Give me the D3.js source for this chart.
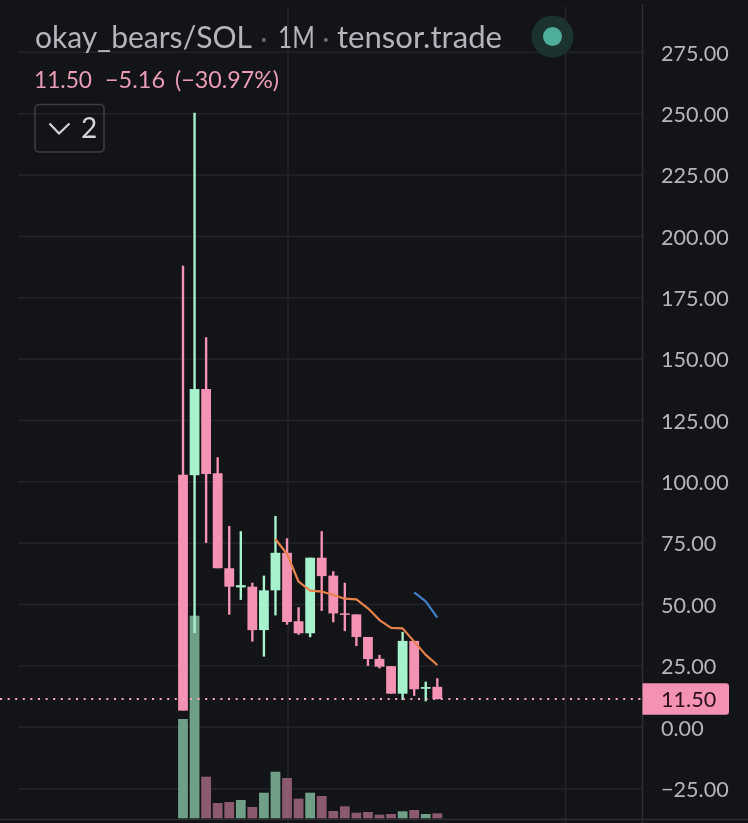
<!DOCTYPE html>
<html><head><meta charset="utf-8">
<script src="https://cdn.jsdelivr.net/npm/d3@7"></script>
<style>html,body{margin:0;padding:0;background:#131417}svg{display:block;filter:blur(0.4px)}text{font-family:Lato,sans-serif}</style>
</head><body><svg id="c" width="748" height="823"></svg>
<script>
const periods = d3.range(1,24).map(d=>"M"+d);
const opens  = [102.9,102.7,137.8,103.5,64.8,57.0,57.3,39.6,55.8,71.1,43.2,38.3,69.1,61.8,46.4,46.0,36.8,27.9,24.9,13.7,35.2,15.7,16.5];
const closes = [6.8,137.8,103.2,64.8,57.3,57.9,39.6,55.8,71.1,42.9,38.3,69.1,61.6,46.4,46.0,36.8,27.8,24.7,13.7,35.2,15.5,16.4,11.5];
const highs  = [188,250.4,158.9,110,82,79.9,58.9,61.8,86.1,77,48.9,69.1,79.9,63.6,58.9,46,36.8,29.5,24.9,38.9,35.2,18.6,20];
const lows   = [6.8,38.4,75.1,64.8,45.9,51.9,34.9,28.8,45.6,41.8,37.7,36.7,47.4,42.8,39.2,33.1,25,24,13.7,11.1,12.8,10.6,11.4];
const volumes= [99.3,202.6,41.6,15.3,16.3,18.3,11.3,25.6,46.6,40.3,19.6,25.6,22.3,7.3,12,5.6,6.3,3.6,4.3,7,8.3,4.3,5];
const volumeUp=[1,1,0,0,0,1,0,1,1,0,0,1,0,0,0,0,0,0,0,1,0,1,0];
const maOrange = [null,null,null,null,null,null,null,null,76.6,70.6,59.3,55.7,55.3,53.9,52.4,52.1,48.5,43.7,40.5,40.3,34.9,29.5,25.4];
const maBlue = [null,null,null,null,null,null,null,null,null,null,null,null,null,null,null,null,null,null,null,null,55,51.3,44.7];
const priceTicks = [275,250,225,200,175,150,125,100,75,50,25,0,-25];
const lastPrice = 11.5;

const UP="#a6f2cd",DOWN="#f492b3",UPV="#6f9f87",DOWNV="#8c5a70",GRID="#232428",BG="#131417";
const svg=d3.select("#c");
svg.append("rect").attr("width",748).attr("height",823).attr("fill",BG);
const y=d3.scaleLinear().domain([0,275]).range([727.3,52.3]);
const x=d3.scalePoint().domain(periods).range([183,437.3]);
const v=d3.scaleLinear().domain([0,202.6]).range([818.3,615.7]);
const BW=9.8,WW=2.4;

// grid
svg.append("g").selectAll("line").data(priceTicks).join("line")
  .attr("x1",18).attr("x2",642).attr("y1",d=>y(d)).attr("y2",d=>y(d)).attr("stroke",GRID).attr("stroke-width",1.5);
svg.append("g").selectAll("line").data([288,565.5]).join("line")
  .attr("x1",d=>d).attr("x2",d=>d).attr("y1",6).attr("y2",823).attr("stroke",GRID).attr("stroke-width",1.5);
svg.append("line").attr("x1",642.5).attr("x2",642.5).attr("y1",4).attr("y2",823).attr("stroke","#2e2f33").attr("stroke-width",1.5);
svg.append("line").attr("x1",0).attr("x2",748).attr("y1",819.5).attr("y2",819.5).attr("stroke","#2e2f33").attr("stroke-width",1.5);

// volume
svg.append("g").selectAll("rect").data(volumes).join("rect")
  .attr("x",(d,i)=>x(periods[i])-BW/2).attr("width",BW)
  .attr("y",d=>v(d)).attr("height",d=>v(0)-v(d))
  .attr("fill",(d,i)=>volumeUp[i]?UPV:DOWNV);

// candles
const col=i=>closes[i]>=opens[i]?UP:DOWN;
svg.append("g").selectAll("line").data(periods).join("line")
  .attr("x1",d=>x(d)).attr("x2",d=>x(d))
  .attr("y1",(d,i)=>y(highs[i])).attr("y2",(d,i)=>y(lows[i]))
  .attr("stroke",(d,i)=>col(i)).attr("stroke-width",WW);
svg.append("g").selectAll("rect").data(periods).join("rect")
  .attr("x",d=>x(d)-BW/2).attr("width",BW)
  .attr("y",(d,i)=>y(Math.max(opens[i],closes[i])))
  .attr("height",(d,i)=>Math.max(1.5,Math.abs(y(opens[i])-y(closes[i]))))
  .attr("fill",(d,i)=>col(i));

// moving averages
const line=d3.line().defined(d=>d!==null).x((d,i)=>x(periods[i])).y(d=>y(d));
svg.append("path").attr("d",line(maOrange)).attr("fill","none").attr("stroke","#e8834c").attr("stroke-width",2.2).attr("stroke-linejoin","round");
svg.append("path").attr("d",line(maBlue)).attr("fill","none").attr("stroke","#3f7fc4").attr("stroke-width",2.2).attr("stroke-linejoin","round");

// last price line
svg.append("line").attr("x1",0).attr("x2",642).attr("y1",y(lastPrice)).attr("y2",y(lastPrice))
  .attr("stroke","#f7a6c1").attr("stroke-width",2).attr("stroke-dasharray","2 5.6");

// price axis
const axis=d3.axisRight(y).tickValues(priceTicks).tickSize(0).tickPadding(0)
  .tickFormat(d=>d3.format(".2f")(d).replace("-","\u2212"));
const ag=svg.append("g").attr("transform","translate(661,0)").call(axis);
ag.select(".domain").remove();
ag.selectAll("text").attr("font-size",21.6).attr("font-family","Lato,sans-serif").attr("fill","#b4b6bd").attr("dy","0.36em").attr("x",0);

// last price tag
const ty=y(lastPrice);
svg.append("path").attr("d",`M642.5 ${ty-15.8}H726a3 3 0 0 1 3 3V${ty+12.8}a3 3 0 0 1 -3 3H642.5Z`).attr("fill",DOWN);
svg.append("text").attr("x",661).attr("y",ty).attr("dy","0.36em").attr("font-size",21.6).attr("fill","#2a0f1b").text(d3.format(".2f")(lastPrice));

// header
const hdr=[["okay_bears/SOL",35,"#b2b5bc",217],["tensor.trade",337,"#b2b5bc",165]];
svg.append("g").selectAll("text").data(hdr).join("text")
  .attr("x",d=>d[1]).attr("y",47.5).attr("font-size",30.5).attr("fill",d=>d[2])
  .attr("textLength",d=>d[3]).attr("lengthAdjust","spacingAndGlyphs").text(d=>d[0]);
svg.append("text").attr("transform","translate(278,47.5) scale(0.8,1)").attr("font-size",30.5).attr("fill","#b2b5bc").text("1M");
svg.append("g").selectAll("text").data([264,326]).join("text")
  .attr("x",d=>d).attr("y",47.5).attr("font-size",26).attr("text-anchor","middle").attr("fill","#6a6c72").text("\u00b7");
const sub=[["11.50",34,58],["\u22125.16",105,60],["(\u221230.97%)",175,104]];
svg.append("g").selectAll("text").data(sub).join("text")
  .attr("x",d=>d[1]).attr("y",88).attr("font-size",23.5).attr("fill","#eb9db6")
  .attr("textLength",d=>d[2]).attr("lengthAdjust","spacingAndGlyphs").text(d=>d[0]);
svg.append("circle").attr("cx",552.5).attr("cy",36.5).attr("r",21).attr("fill","#1b322f");
svg.append("circle").attr("cx",552.5).attr("cy",36.5).attr("r",9.5).attr("fill","#4fae9b");

// collapse button
svg.append("rect").attr("x",35).attr("y",104.5).attr("width",69).attr("height",47.5).attr("rx",4).attr("fill","none").attr("stroke","#3a3c41").attr("stroke-width",1.6);
svg.append("path").attr("d","M49.5 123.5L59 133.5L69.5 123.5").attr("fill","none").attr("stroke","#d4d5da").attr("stroke-width",2.2);
svg.append("text").attr("x",81).attr("y",137.5).attr("font-size",28).attr("fill","#d4d5da").text("2");
</script></body></html>
